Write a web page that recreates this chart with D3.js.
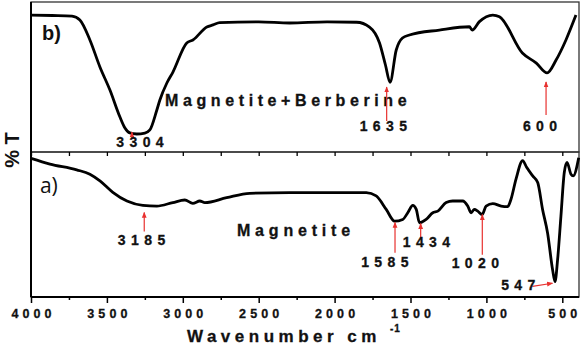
<!DOCTYPE html>
<html>
<head>
<meta charset="utf-8">
<script src="https://cdn.jsdelivr.net/npm/d3@7"></script>
<style>
  body { margin: 0; background: #fff; }
  text { font-family: "Liberation Sans", Arial, sans-serif; }
</style>
</head>
<body>
<svg id="chart" width="582" height="345"></svg>
<script>
// ---- data (wavenumber in cm-1, transmittance in arbitrary %T per panel) ----
// b) magnetite + berberine
const wnB = [4000, 3860, 3730, 3678, 3612, 3546, 3480, 3414, 3381, 3349, 3304, 3250, 3217, 3171, 3151, 3105,
             3065, 2974, 2933, 2842, 2801, 2757, 2500, 2296, 2050, 1855, 1770, 1704, 1665, 1635, 1594, 1553,
             1507, 1310, 1112, 1094, 1046, 958, 914, 763, 671, 600, 541, 476, 410];
const tB  = [91.3, 91.0, 90.6, 88.0, 74.7, 56.7, 41.3, 23.3, 16.0, 12.7, 12.0, 12.6, 14.7, 28.0, 34.7, 46.0,
             53.3, 72.7, 74.7, 83.3, 84.7, 86.2, 86.7, 86.0, 86.7, 86.5, 83.3, 72.7, 58.0, 46.5, 68.0, 76.0,
             78.0, 81.3, 83.5, 81.3, 86.9, 91.3, 90.2, 66.0, 59.3, 52.7, 61.3, 74.7, 91.3];

// a) magnetite
const wnA = [4000, 3875, 3699, 3612, 3546, 3461, 3368, 3263, 3171, 3066, 2987, 2934, 2888, 2855, 2711, 2559,
             2296, 1791, 1726, 1660, 1605, 1551, 1518, 1485, 1462, 1441, 1397, 1353, 1320, 1265, 1222, 1156,
             1123, 1101, 1079, 1057, 1028, 1002, 958, 903, 860, 838, 805, 761, 735, 695, 662, 630,
             597, 564, 548, 531, 509, 487, 469, 443, 428, 392];
const tA  = [95.6, 91.7, 87.7, 84.7, 80.1, 72.2, 66.2, 63.2, 62.7, 65.1, 66.9, 64.6, 66.2, 65.1, 68.5, 71.5,
             72.0, 72.0, 69.7, 60.4, 52.3, 53.5, 58.1, 63.2, 60.4, 51.2, 53.5, 58.1, 59.2, 65.1, 66.2, 66.2,
             62.7, 58.1, 60.4, 59.2, 56.9, 62.7, 64.4, 62.7, 62.3, 67.4, 81.3, 94.0, 89.4, 83.5, 79.0, 60.4,
             44.2, 18.8, 10.6, 25.7, 55.8, 85.9, 92.8, 84.7, 83.5, 96.0];

const xTicks = [4000, 3500, 3000, 2500, 2000, 1500, 1000, 500];
const xMinor = [3750, 3250, 2750, 2250, 1750, 1250, 750];

const peakLabelsB = ["3304", "1635", "600"];
const peakLabelsA = ["3185", "1585", "1434", "1020", "547"];

// ---- layout ----
const svg = d3.select("#chart");
const left = 31, right = 579;
const topB = 2, botB = 152, topA = 152, botA = 297;

const x = d3.scaleLinear().domain([4000, 390]).range([left, right]);
const yB = d3.scaleLinear().domain([0, 100]).range([botB, topB]);
const yA = d3.scaleLinear().domain([0, 100]).range([botA, topA]);

const line = ys => d3.line()
  .x(d => x(d[0]))
  .y(d => ys(d[1]))
  .curve(d3.curveMonotoneX);

// frames
svg.append("rect").attr("x", left).attr("y", topB).attr("width", right - left).attr("height", botB - topB)
  .attr("fill", "none").attr("stroke", "#333").attr("stroke-width", 1.3);
svg.append("rect").attr("x", left).attr("y", topA).attr("width", right - left).attr("height", botA - topA)
  .attr("fill", "none").attr("stroke", "#333").attr("stroke-width", 1.3);
svg.append("line").attr("x1", left).attr("x2", left).attr("y1", topB).attr("y2", botA)
  .attr("stroke", "#000").attr("stroke-width", 2);
svg.append("line").attr("x1", left).attr("x2", right).attr("y1", botA).attr("y2", botA)
  .attr("stroke", "#000").attr("stroke-width", 2);

// ticks of the upper panel (hanging into the lower one)
svg.append("g").attr("transform", `translate(0,${botB})`)
  .call(d3.axisBottom(x).tickValues(xTicks.concat(xMinor)).tickSize(4).tickFormat(""))
  .call(g => g.select(".domain").remove())
  .call(g => g.selectAll("line").attr("stroke", "#000").attr("stroke-width", 1.3));

// bottom axis
svg.append("g").attr("transform", `translate(0,${botA})`)
  .call(d3.axisBottom(x).tickValues(xMinor).tickSize(3).tickFormat(""))
  .call(g => g.select(".domain").remove())
  .call(g => g.selectAll("line").attr("stroke", "#000").attr("stroke-width", 1.5));

svg.append("g").attr("transform", `translate(0,${botA})`)
  .call(d3.axisBottom(x).tickValues(xTicks).tickSize(6).tickFormat(d3.format("d")))
  .call(g => g.select(".domain").remove())
  .call(g => g.selectAll("line").attr("stroke", "#000").attr("stroke-width", 1.5))
  .call(g => g.selectAll("text")
    .attr("y", 21).attr("dy", 0).attr("dx", 2)
    .attr("fill", "#111").attr("stroke", "#111").attr("stroke-width", 0.3)
    .style("font-size", "12.5px").style("font-weight", "bold").style("letter-spacing", "4.1px"));

// axis titles
const xt = svg.append("text").attr("x", 187).attr("y", 342)
  .attr("fill", "#111").attr("stroke", "#111").attr("stroke-width", 0.3)
  .style("font-size", "17px").style("font-weight", "bold").style("letter-spacing", "4.5px");
xt.append("tspan").text("Wavenumber cm");
xt.append("tspan").attr("dx", 9).attr("dy", -10).style("font-size", "10px").style("letter-spacing", "1px").text("-1");

svg.append("text").attr("transform", "translate(19,150) rotate(-90)")
  .attr("text-anchor", "middle").attr("fill", "#111")
  .style("font-size", "20px").style("font-weight", "bold").text("% T");

// spectra
svg.append("path").datum(d3.zip(wnB, tB)).attr("d", line(yB))
  .attr("fill", "none").attr("stroke", "#000").attr("stroke-width", 2.8).attr("stroke-linejoin", "round");
svg.append("path").datum(d3.zip(wnA, tA)).attr("d", line(yA))
  .attr("fill", "none").attr("stroke", "#000").attr("stroke-width", 2.8).attr("stroke-linejoin", "round");

// panel labels + names
svg.append("text").attr("x", x(3928)).attr("y", yB(74.7)).attr("fill", "#111")
  .style("font-size", "20px").style("font-weight", "bold").text("b)");
svg.append("text").attr("x", x(3941)).attr("y", yA(72)).attr("fill", "#111")
  .style("font-family", "'Open Sans', sans-serif").style("font-size", "21px").text("a)");

svg.append("text").attr("x", x(3117)).attr("y", yB(30.7)).attr("fill", "#111")
  .attr("stroke", "#111").attr("stroke-width", 0.3)
  .style("font-size", "16px").style("font-weight", "bold").style("letter-spacing", "4.6px")
  .text("Magnetite+Berberine");
svg.append("text").attr("x", x(2643)).attr("y", yA(41.9)).attr("fill", "#111")
  .attr("stroke", "#111").attr("stroke-width", 0.3)
  .style("font-size", "16px").style("font-weight", "bold").style("letter-spacing", "4.8px")
  .text("Magnetite");

// peak annotations: label centre (wn, %T), arrow foot -> head (wn, %T)
const notesB = [
  { lx: 3282, ly: 3.3,  ax: 3335, a0: 8.7,  a1: 13.3, bx: 3335 },
  { lx: 1679, ly: 14.0, ax: 1657, a0: 20.7, a1: 43.3, bx: 1657 },
  { lx: 647,  ly: 14.0, ax: 607,  a0: 24.7, a1: 46.7, bx: 607 }
];
const notesA = [
  { lx: 3272, ly: 36.1, ax: 3254, a0: 45.1, a1: 58.3, bx: 3254 },
  { lx: 1669, ly: 21.0, ax: 1602, a0: 30.6, a1: 51.4, bx: 1602 },
  { lx: 1395, ly: 34.2, ax: 1433, a0: 39.6, a1: 50.7, bx: 1433 },
  { lx: 1073, ly: 20.1, ax: 1027, a0: 29.2, a1: 56.9, bx: 1027 },
  { lx: 790,  ly: 4.9,  ax: 697,  a0: 7.3,  a1: 9.5,  bx: 565 }
];

const red = "#e8312f";
svg.append("defs").append("marker").attr("id", "head")
  .attr("viewBox", "0 0 10 10").attr("refX", 9).attr("refY", 5)
  .attr("markerWidth", 5).attr("markerHeight", 5).attr("orient", "auto")
  .append("path").attr("d", "M0,1L10,5L0,9Z").attr("fill", red);

function annotate(labels, notes, ys) {
  notes.forEach((n, i) => {
    svg.append("line")
      .attr("x1", x(n.ax)).attr("y1", ys(n.a0))
      .attr("x2", x(n.bx)).attr("y2", ys(n.a1))
      .attr("stroke", red).attr("stroke-width", 1.2).attr("marker-end", "url(#head)");
    svg.append("text").attr("x", x(n.lx)).attr("y", ys(n.ly)).attr("dx", 2.7)
      .attr("text-anchor", "middle").attr("fill", "#111")
      .attr("stroke", "#111").attr("stroke-width", 0.3)
      .style("font-size", "14px").style("font-weight", "bold").style("letter-spacing", "5.4px")
      .text(labels[i]);
  });
}
annotate(peakLabelsB, notesB, yB);
annotate(peakLabelsA, notesA, yA);
</script>
</body>
</html>
